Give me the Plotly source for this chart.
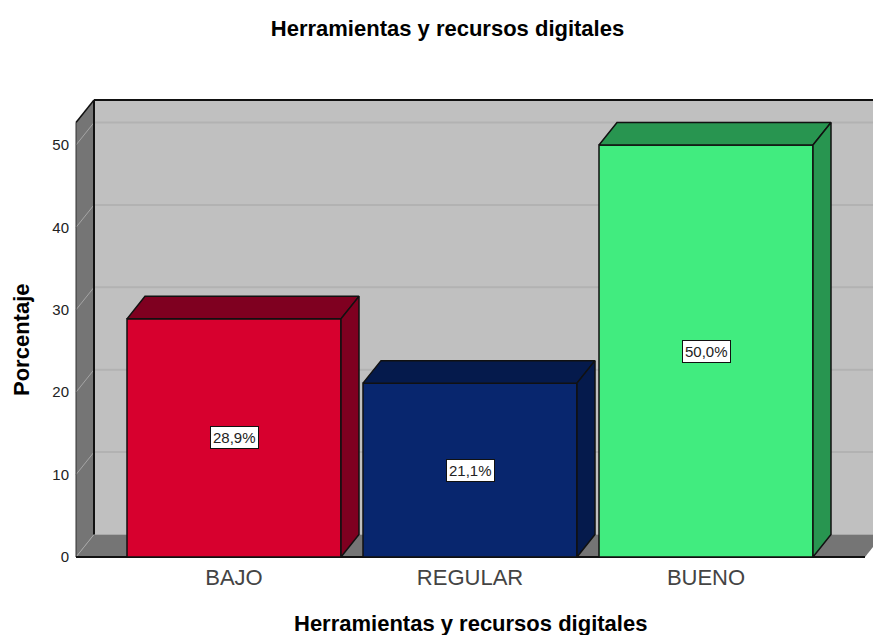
import plotly.graph_objects as go

CATEGORIAS = ["BAJO", "REGULAR", "BUENO"]
PORCENTAJE = [28.9, 21.1, 50.0]
ETIQUETAS = ["28,9%", "21,1%", "50,0%"]
TICKS_Y = [0, 10, 20, 30, 40, 50]
TITULO = "Herramientas y recursos digitales"

COLOR_FRENTE = ["#D7002E", "#08266E", "#41EC7F"]
COLOR_LADO = ["#7F0020", "#051A4C", "#289550"]
COLOR_PARED = "#C0C0C0"
COLOR_COSTADO = "#757575"
COLOR_GRID = "#B2B2B2"
COLOR_GRID_COSTADO = "#A5A5A5"

FUENTE = "Liberation Sans, Arial, sans-serif"

# profundidad del efecto 3D, en unidades de los ejes
PROF_X = 18 / 236
PROF_Y = 22.5 / 8.24
ANCHO = 214 / 236
SUELO_IZQ = -158 / 236
SUELO_DER = 631 / 236
TECHO = 457 / 8.24

posiciones = list(range(len(CATEGORIAS)))


def linea(x0, y0, x1, y1, color, width=1):
    return dict(type="line", layer="below", xref="x", yref="y",
                x0=x0, y0=y0, x1=x1, y1=y1,
                line=dict(color=color, width=width))


def poligono(puntos, color):
    path = "M " + " L ".join(f"{x},{y}" for x, y in puntos) + " Z"
    return dict(type="path", layer="below", xref="x", yref="y", path=path,
                fillcolor=color, line=dict(width=0))


fondo_izq = SUELO_IZQ + PROF_X
fondo_der = SUELO_DER + PROF_X

formas = [
    poligono([(fondo_izq, PROF_Y), (fondo_der, PROF_Y), (fondo_der, TECHO), (fondo_izq, TECHO)], COLOR_PARED),
    poligono([(SUELO_IZQ, 0), (fondo_izq, PROF_Y), (fondo_izq, TECHO), (SUELO_IZQ, TECHO - PROF_Y)], COLOR_COSTADO),
    poligono([(SUELO_IZQ, 0), (SUELO_DER, 0), (fondo_der, PROF_Y), (fondo_izq, PROF_Y)], COLOR_COSTADO),
]
for t in TICKS_Y:
    if t > 0:
        formas.append(linea(fondo_izq, t + PROF_Y, fondo_der, t + PROF_Y, COLOR_GRID, 2))
    formas.append(linea(SUELO_IZQ, t, fondo_izq, t + PROF_Y, COLOR_GRID_COSTADO, 1))
formas += [
    linea(fondo_izq, PROF_Y, fondo_izq, TECHO, "#111111", 2),
    linea(fondo_izq, TECHO, fondo_der, TECHO, "#111111", 2),
    linea(SUELO_IZQ, TECHO - PROF_Y, fondo_izq, TECHO, "#111111", 1.5),
    linea(SUELO_IZQ, 0, SUELO_IZQ, TECHO - PROF_Y, "#333333", 1),
    linea(SUELO_IZQ, 0, SUELO_DER, 0, "#111111", 2),
]

fig = go.Figure(go.Bar(
    x=posiciones,
    y=PORCENTAJE,
    width=ANCHO,
    marker=dict(color=COLOR_FRENTE, line=dict(color="#111111", width=1.5)),
    showlegend=False,
))

for pos, valor, lado in zip(posiciones, PORCENTAJE, COLOR_LADO):
    izq = pos - ANCHO / 2
    der = pos + ANCHO / 2
    # cara superior
    fig.add_trace(go.Scatter(
        x=[izq, izq + PROF_X, der + PROF_X, der, izq],
        y=[valor, valor + PROF_Y, valor + PROF_Y, valor, valor],
        mode="lines", fill="toself", fillcolor=lado,
        line=dict(color="#111111", width=1.5),
        showlegend=False, hoverinfo="skip",
    ))
    # cara lateral
    fig.add_trace(go.Scatter(
        x=[der, der + PROF_X, der + PROF_X, der, der],
        y=[0, PROF_Y, valor + PROF_Y, valor, 0],
        mode="lines", fill="toself", fillcolor=lado,
        line=dict(color="#111111", width=1.5),
        showlegend=False, hoverinfo="skip",
    ))

anotaciones = [
    dict(x=pos, y=valor / 2, xref="x", yref="y", text=txt, showarrow=False,
         font=dict(family=FUENTE, size=15, color="#222222"),
         bgcolor="white", bordercolor="#111111", borderwidth=1, borderpad=2)
    for pos, valor, txt in zip(posiciones, PORCENTAJE, ETIQUETAS)
]
anotaciones += [
    dict(x=1, y=(562 - 623) / 470, xref="x", yref="paper", text=f"<b>{TITULO}</b>", showarrow=False,
         font=dict(family=FUENTE, size=22, color="black"), xanchor="center", yanchor="middle"),
    dict(x=(21 - 70) / 803, y=(562 - 340) / 470, xref="paper", yref="paper", text="<b>Porcentaje</b>",
         showarrow=False, textangle=-90,
         font=dict(family=FUENTE, size=22, color="black"), xanchor="center", yanchor="middle"),
]

fig.update_layout(
    width=873,
    height=635,
    margin=dict(l=70, r=0, t=92, b=73),
    paper_bgcolor="white",
    plot_bgcolor="white",
    font_family=FUENTE,
    title=dict(text=f"<b>{TITULO}</b>", x=447.5 / 873, xanchor="center", y=1 - 28 / 635, yanchor="middle",
               font=dict(family=FUENTE, size=22, color="black")),
    xaxis=dict(
        range=[-164 / 236, 639 / 236],
        tickvals=posiciones,
        ticktext=CATEGORIAS,
        tickfont=dict(size=22, color="#444444"),
        showgrid=False, zeroline=False, showline=False, ticks="",
    ),
    yaxis=dict(
        range=[-5 / 8.24, 465 / 8.24],
        tickvals=TICKS_Y,
        tickfont=dict(size=15, color="#222222"),
        showgrid=False, zeroline=False, showline=False, ticks="",
    ),
    shapes=formas,
    annotations=anotaciones,
)

fig.write_html("out.html", config=dict(displayModeBar=False),
               post_script="document.body.style.margin='0';document.body.style.overflow='hidden';")
